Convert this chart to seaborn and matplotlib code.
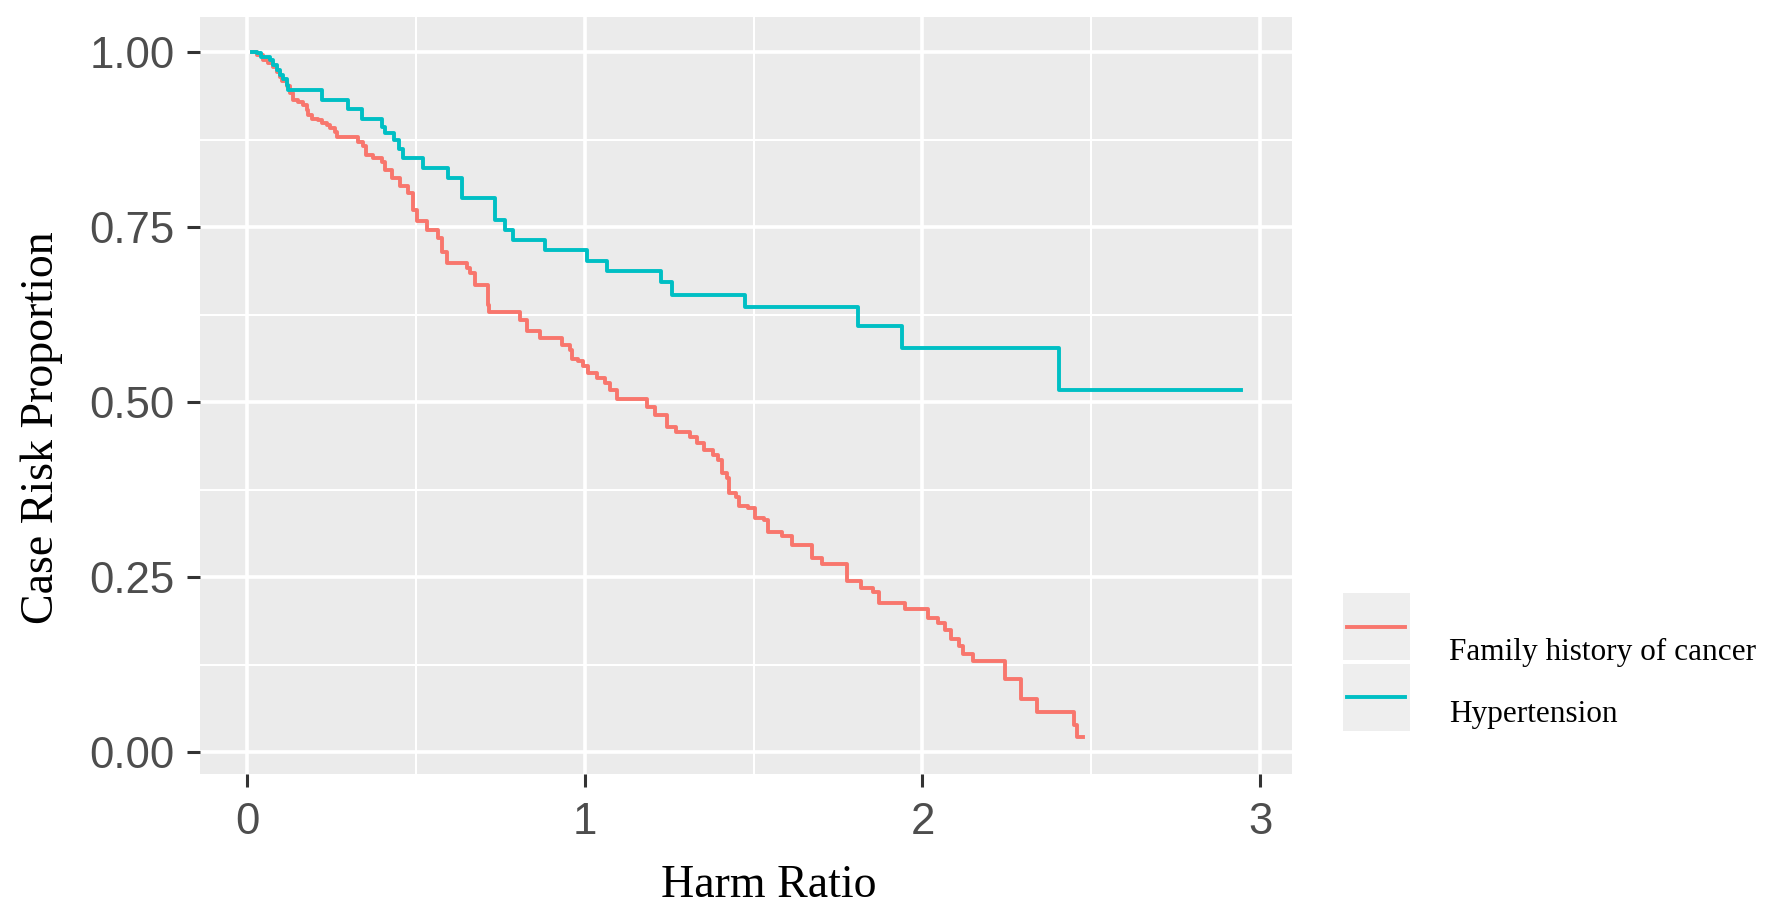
import numpy as np
import pandas as pd
import matplotlib
matplotlib.use("Agg")
import matplotlib.pyplot as plt
import seaborn as sns
from matplotlib.patches import Rectangle
from matplotlib.lines import Line2D

# ---------------- data ----------------
series_names = ["Family history of cancer", "Hypertension"]
series_colors = ["#F8766D", "#00BFC4"]

cancer_x = [0.014, 0.029, 0.048, 0.063, 0.078, 0.088, 0.098, 0.103, 0.118, 0.127,
            0.137, 0.152, 0.167, 0.177, 0.182, 0.192, 0.211, 0.221, 0.236, 0.246,
            0.261, 0.266, 0.328, 0.345, 0.352, 0.374, 0.399, 0.409, 0.428, 0.453,
            0.478, 0.493, 0.502, 0.532, 0.567, 0.577, 0.591, 0.651, 0.660, 0.675,
            0.715, 0.718, 0.808, 0.828, 0.868, 0.932, 0.957, 0.961, 0.981, 0.996,
            1.011, 1.035, 1.060, 1.075, 1.095, 1.184, 1.208, 1.245, 1.271, 1.313,
            1.333, 1.354, 1.380, 1.396, 1.406, 1.422, 1.427, 1.448, 1.458, 1.484,
            1.505, 1.531, 1.542, 1.583, 1.615, 1.672, 1.703, 1.776, 1.818, 1.854,
            1.870, 1.948, 2.016, 2.047, 2.068, 2.083, 2.109, 2.120, 2.151, 2.245,
            2.292, 2.339, 2.448, 2.458, 2.474]
cancer_y = [1.000, 0.996, 0.989, 0.984, 0.979, 0.972, 0.965, 0.958, 0.951, 0.941,
            0.931, 0.929, 0.924, 0.917, 0.910, 0.905, 0.903, 0.898, 0.896, 0.891,
            0.886, 0.879, 0.871, 0.866, 0.853, 0.848, 0.843, 0.831, 0.820, 0.808,
            0.798, 0.774, 0.758, 0.746, 0.734, 0.715, 0.698, 0.691, 0.684, 0.667,
            0.639, 0.629, 0.617, 0.601, 0.591, 0.581, 0.574, 0.562, 0.558, 0.551,
            0.541, 0.534, 0.527, 0.517, 0.505, 0.493, 0.481, 0.465, 0.457, 0.450,
            0.442, 0.432, 0.424, 0.417, 0.398, 0.391, 0.370, 0.365, 0.351, 0.348,
            0.334, 0.332, 0.315, 0.308, 0.296, 0.277, 0.268, 0.244, 0.235, 0.228,
            0.213, 0.204, 0.192, 0.185, 0.175, 0.161, 0.152, 0.140, 0.130, 0.104,
            0.076, 0.057, 0.039, 0.021, 0.021]

hyper_x = [0.014, 0.029, 0.043, 0.068, 0.078, 0.088, 0.098, 0.108, 0.118, 0.122,
           0.221, 0.300, 0.340, 0.399, 0.409, 0.434, 0.449, 0.463, 0.522, 0.596,
           0.636, 0.734, 0.764, 0.789, 0.883, 1.006, 1.065, 1.227, 1.259, 1.474,
           1.809, 1.938, 2.403, 2.942]
hyper_y = [1.000, 0.998, 0.993, 0.988, 0.981, 0.974, 0.967, 0.961, 0.953, 0.946,
           0.932, 0.918, 0.905, 0.893, 0.884, 0.874, 0.862, 0.848, 0.834, 0.820,
           0.791, 0.760, 0.746, 0.732, 0.717, 0.702, 0.687, 0.671, 0.653, 0.636,
           0.609, 0.577, 0.517, 0.517]

x_ticks = [0, 1, 2, 3]
y_ticks = [0.00, 0.25, 0.50, 0.75, 1.00]
y_tick_labels = ["0.00", "0.25", "0.50", "0.75", "1.00"]
x_title = "Harm Ratio"
y_title = "Case Risk Proportion"

# ---------------- build long table ----------------
df = pd.concat([
    pd.DataFrame({"x": cancer_x, "y": cancer_y, "group": series_names[0]}),
    pd.DataFrame({"x": hyper_x, "y": hyper_y, "group": series_names[1]}),
], ignore_index=True)

# ---------------- figure ----------------
W, H = 1772, 924
fig = plt.figure(figsize=(W / 100, H / 100), dpi=100)
fig.patch.set_facecolor("white")

L, R, T, B = 200, 1292, 17, 774
ax = fig.add_axes([L / W, 1 - B / H, (R - L) / W, (B - T) / H])
ax.set_facecolor("#EBEBEB")

sns.lineplot(data=df, x="x", y="y", hue="group", hue_order=series_names,
             palette=series_colors, estimator=None, sort=False,
             drawstyle="steps-post", linewidth=2.8, legend=False, ax=ax, zorder=3)

ax.set_xlim(-0.139, 3.094)
ax.set_ylim(-0.0314, 1.05)

ax.set_xticks(x_ticks)
ax.set_xticklabels([str(t) for t in x_ticks])
ax.set_yticks(y_ticks)
ax.set_yticklabels(y_tick_labels)
ax.set_xticks([0.5, 1.5, 2.5], minor=True)
ax.set_yticks([0.125, 0.375, 0.625, 0.875], minor=True)

ax.grid(which="major", color="white", linewidth=2.6, zorder=1)
ax.grid(which="minor", color="white", linewidth=1.5, zorder=1)
ax.set_axisbelow(True)
for s in ax.spines.values():
    s.set_visible(False)

ax.tick_params(which="major", length=9.4, width=2.2, color="#333333",
               labelcolor="#4D4D4D", labelsize=31.5)
ax.tick_params(axis="y", pad=9)
ax.tick_params(axis="x", pad=11)
ax.tick_params(which="minor", length=0)
for lab in ax.get_xticklabels() + ax.get_yticklabels():
    lab.set_fontfamily(["Liberation Sans", "DejaVu Sans"])

serif = ["Liberation Serif", "DejaVu Serif"]
ax.set_xlabel(x_title, fontsize=33, family=serif, color="black")
ax.xaxis.set_label_coords(0.521, -0.120)
ax.set_ylabel(y_title, fontsize=33, family=serif, color="black")
ax.yaxis.set_label_coords(-0.125, 0.457)

# ---------------- legend (drawn like the ggplot guide) ----------------
boxes = [(1343, 593, 67, 67), (1343, 664, 67, 67)]
line_y = [627, 697]
text_base = [660, 722]
for (bx, by, bw, bh), ly, ty, name, col in zip(boxes, line_y, text_base,
                                                 series_names, series_colors):
    fig.add_artist(Rectangle((bx / W, 1 - (by + bh) / H), bw / W, bh / H,
                             transform=fig.transFigure, facecolor="#EEEEEE",
                             edgecolor="none"))
    fig.add_artist(Line2D([1347 / W, 1405 / W], [1 - ly / H, 1 - ly / H],
                          transform=fig.transFigure, color=col, linewidth=2.8))
    fig.text(1449 / W, 1 - ty / H, name, family=serif, fontsize=22.5,
             color="black", va="baseline", ha="left")

fig.savefig("out.png", dpi=100, facecolor="white")
